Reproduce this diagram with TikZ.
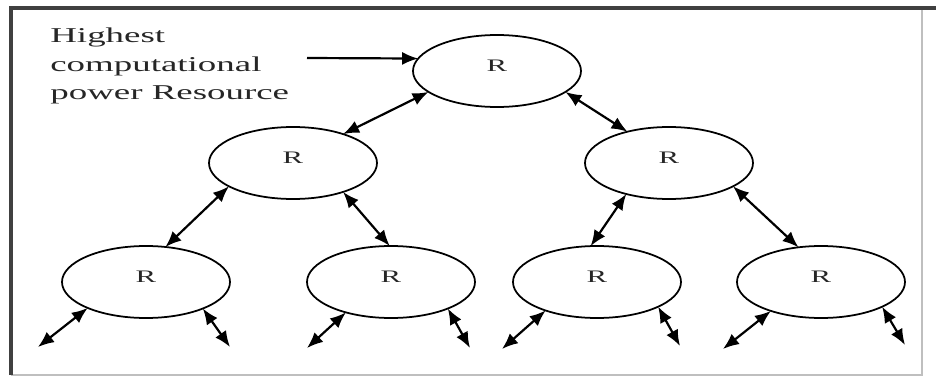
\documentclass[tikz,border=0pt]{standalone}
\usepackage{fontspec}
\newfontfamily\figfont[FakeStretch=1.75]{Liberation Serif}
\usetikzlibrary{shapes.geometric, arrows.meta}

\begin{document}
\begin{tikzpicture}[
    >={Latex[length=3.2mm, width=2.6mm]},
    res/.style={
        draw, ellipse, line width=1pt, minimum width=3.36cm, minimum height=1.44cm,
        inner sep=0pt, outer sep=0pt, text depth=0.2cm, text=black!85,
        font=\figfont\fontsize{10}{11}\selectfont
    },
    link/.style={<->, line width=1.25pt}
]

\useasboundingbox (0,0) rectangle (18.72,7.58);

% Frame
\draw[black!25, line width=1.2pt] (0.22,0.08) -- (18.44,0.08) -- (18.44,7.42);
\draw[black!75, line width=2pt] (0.22,0.08) -- (0.22,7.42) -- (18.72,7.42);

% -------------------------
% Resource Nodes
% -------------------------

% Top
\node[res] (Root) at (9.94, 6.16) {R};

% Second level
\node[res] (MidL) at (5.86, 4.32) {R};
\node[res] (MidR) at (13.38, 4.32) {R};

% Leaves
\node[res] (LeafA) at (2.92, 1.94) {R};
\node[res] (LeafB) at (7.82, 1.94) {R};
\node[res] (LeafC) at (11.94, 1.94) {R};
\node[res] (LeafD) at (16.42, 1.94) {R};

% Note
\node[font=\figfont\fontsize{12}{16}\selectfont, text=black!85, align=left,
    anchor=north west, inner sep=0pt]
    (Note) at (1.0, 7.02) {Highest\\computational\\power Resource};

% -------------------------
% Connections
% -------------------------

% Note -> Top
\coordinate (NoteEnd) at (6.14, 6.42);
\draw[->, line width=1.25pt] (NoteEnd) -- (Root.171);

% Top <-> second level
\draw[link] (Root.197) -- (MidL.30);
\draw[link] (Root.343) -- (MidR.143);

% Second level <-> leaves
\draw[link] (MidL.200) -- (LeafA.61);
\draw[link] (MidL.330) -- (LeafB.92);
\draw[link] (MidR.216) -- (LeafC.100);
\draw[link] (MidR.340) -- (LeafD.123);

% Open ends below the leaves
\coordinate (A1) at (0.76, 0.64);
\coordinate (A2) at (4.60, 0.64);
\coordinate (B1) at (6.14, 0.62);
\coordinate (B2) at (9.40, 0.62);
\coordinate (C1) at (10.04, 0.60);
\coordinate (C2) at (13.60, 0.66);
\coordinate (D1) at (14.46, 0.60);
\coordinate (D2) at (18.10, 0.68);

\draw[link] (LeafA.204) -- (A1);
\draw[link] (LeafA.335) -- (A2);
\draw[link] (LeafB.214) -- (B1);
\draw[link] (LeafB.335) -- (B2);
\draw[link] (LeafC.209) -- (C1);
\draw[link] (LeafC.338) -- (C2);
\draw[link] (LeafD.210) -- (D1);
\draw[link] (LeafD.338) -- (D2);

\end{tikzpicture}
\end{document}
